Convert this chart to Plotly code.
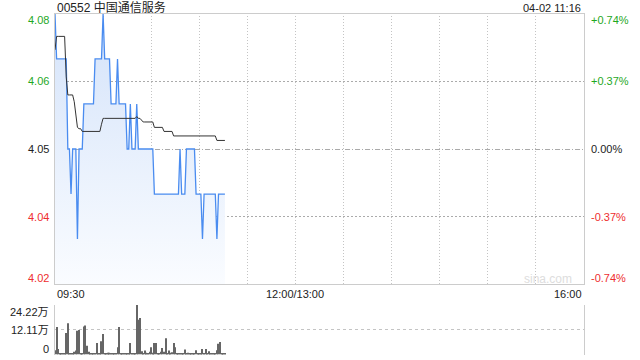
import math
import plotly.graph_objects as go

# ---------------- data ----------------
title_text = "00552 中国通信服务"
stamp_text = "04-02 11:16"
prev_close = 4.05
pct_range = 0.0074

# minute offsets from 09:30 (0..106 -> 09:30..11:16)
minutes = list(range(107))

price = [4.08,
         4.07, 4.07, 4.07, 4.07, 4.07, 4.07, 4.07,
         4.05, 4.05, 4.04, 4.05, 4.05, 4.05, 4.03, 4.05, 4.05, 4.05,
         4.06, 4.06, 4.06, 4.06, 4.06, 4.06, 4.06,
         4.07, 4.07, 4.07, 4.07, 4.07, 4.08, 4.07, 4.07, 4.07, 4.07,
         4.06, 4.06, 4.06, 4.06, 4.07, 4.06, 4.06, 4.06, 4.06, 4.06,
         4.05, 4.05, 4.06, 4.05, 4.05, 4.05, 4.06,
         4.05, 4.05, 4.05, 4.05, 4.05, 4.05, 4.05, 4.05, 4.05, 4.05,
         4.04, 4.04, 4.04, 4.04, 4.04, 4.04, 4.04, 4.04, 4.04, 4.04,
         4.04, 4.04, 4.04, 4.04, 4.04, 4.04,
         4.05, 4.04, 4.04, 4.04,
         4.05, 4.05, 4.05, 4.05, 4.05, 4.05,
         4.04, 4.04, 4.04, 4.04, 4.03,
         4.04, 4.04, 4.04, 4.04, 4.04, 4.04, 4.04, 4.04,
         4.03, 4.04, 4.04, 4.04, 4.04, 4.04]

avg_price = [4.072,
             4.075, 4.075, 4.075, 4.075, 4.075, 4.075,
             4.066, 4.062, 4.062, 4.062, 4.062, 4.0605, 4.058, 4.0548, 4.0545, 4.0545,
             4.0539, 4.0539, 4.0539, 4.0539, 4.0539, 4.0539, 4.0539, 4.0539,
             4.0539, 4.0539, 4.0539, 4.0539, 4.0555,
             4.0568, 4.0568, 4.0568, 4.0568, 4.0568, 4.0568, 4.0568, 4.0568,
             4.0568, 4.0568, 4.0568, 4.0568, 4.0568, 4.0568, 4.0568, 4.0568,
             4.0568, 4.0568, 4.0568, 4.0568, 4.0568,
             4.0572, 4.0568, 4.0568, 4.0563,
             4.056, 4.056, 4.056, 4.056, 4.056, 4.056, 4.056,
             4.0548, 4.0548, 4.0548, 4.0548, 4.0548, 4.0548,
             4.0539, 4.0539, 4.0539, 4.0539, 4.0539, 4.0539,
             4.0529, 4.0529, 4.0529, 4.0529, 4.0529, 4.0529, 4.0529, 4.0529, 4.0529,
             4.0529, 4.0529, 4.0529, 4.0529, 4.0529, 4.0529, 4.0529, 4.0529, 4.0529,
             4.0529, 4.0529, 4.0529, 4.0529, 4.0529, 4.0529, 4.0529, 4.0529, 4.0529,
             4.0519, 4.0519, 4.0519, 4.0519, 4.0519, 4.0519]

# volume in 万 shares
volume = [2.1, 13.4, 2.7, 0.5, 0.4, 0.3, 0.3, 10.5, 15.3, 0.3,
          0.4, 0.3, 1.3, 2.0, 11.6, 12.0, 0.4, 0.3, 13.7, 14.2,
          4.3, 1.3, 0.3, 0.4, 0.3, 0.3, 5.6, 0.3, 0.4, 6.5,
          10.0, 0.3, 0.4, 0.8, 0.8, 0.3, 0.3, 0.4, 0.3, 3.5,
          13.4, 0.3, 0.3, 0.4, 0.3, 0.3, 0.3, 5.6, 0.3, 0.3,
          0.3, 24.22, 17.0, 17.8, 1.6, 0.4, 2.0, 0.8, 0.3, 1.3,
          3.5, 0.8, 5.6, 5.6, 0.3, 0.3, 1.3, 3.2, 1.3, 8.0,
          0.3, 2.0, 0.8, 1.1, 5.6, 3.5, 0.3, 0.3, 0.4, 0.3,
          0.3, 2.4, 0.3, 0.8, 0.3, 0.3, 0.3, 0.3, 2.1, 0.3,
          0.3, 0.3, 2.7, 0.3, 2.7, 0.3, 1.6, 0.3, 0.3, 0.3,
          0.4, 2.1, 5.2, 6.1, 0.3, 0.3, 0.4]

time_tick_pos = [0, 150, 330]
time_tick_text = ["09:30", "12:00/13:00", "16:00"]
time_grid_pos = [30, 60, 90, 120, 150, 180, 210, 240, 270, 300]

price_tick_vals = [4.07997, 4.065, 4.05, 4.035, 4.02003]
price_tick_text = ["4.08", "4.06", "4.05", "4.04", "4.02"]
pct_tick_text = ["+0.74%", "+0.37%", "0.00%", "-0.37%", "-0.74%"]
price_grid_vals = [4.065, 4.035]
vol_tick_vals = [24.22, 12.11, 0]
vol_tick_text = ["24.22万", "12.11万", "0"]

# ---------------- styling ----------------
W, H = 640, 360
L, R = 55, 584
PT, PB = 14, 284
VT, VB = 305, 354.5
FONT = "Liberation Sans, Arial, Noto Sans CJK SC"
GREEN = "#1fa81f"
RED = "#ee2e2e"
GRID = "#c4c4c4"

ymin = prev_close * (1 - pct_range)
ymax = prev_close * (1 + pct_range)


def px_x(m):
    # pixel-centred paper x of a minute position (crisp 1px line)
    return (math.floor(L + m * (R - L) / 330.0) + 0.5) / W


def px_y(v):
    # pixel-centred paper y of a price value (crisp 1px line)
    p = PT + (ymax - v) / (ymax - ymin) * (PB - PT)
    return 1 - (math.floor(p) + 0.5) / H


fig = go.Figure()

fig.add_trace(go.Scatter(
    x=minutes, y=price, mode="lines",
    line=dict(color="#4a8cf0", width=1.3),
    fill="tozeroy",
    fillgradient=dict(type="vertical", start=ymin, stop=ymax,
                      colorscale=[[0, "rgba(250,252,255,1)"],
                                  [1, "rgba(212,227,250,1)"]]),
    xaxis="x", yaxis="y", hoverinfo="skip", showlegend=False))

fig.add_trace(go.Scatter(
    x=minutes, y=avg_price, mode="lines",
    line=dict(color="#333333", width=1),
    xaxis="x", yaxis="y", hoverinfo="skip", showlegend=False))

fig.add_trace(go.Bar(
    x=minutes, y=volume, marker=dict(color="#666666", line=dict(width=0)),
    xaxis="x2", yaxis="y2", hoverinfo="skip", showlegend=False))

xdom = [L / W, R / W]
fig.update_layout(
    width=W, height=H,
    margin=dict(l=0, r=0, t=0, b=0),
    paper_bgcolor="white", plot_bgcolor="rgba(0,0,0,0)",
    bargap=0.35,
    font=dict(family=FONT, size=11, color="#222"),
    xaxis=dict(domain=xdom, range=[0, 330], anchor="y",
               showgrid=False, showticklabels=False, ticks="", zeroline=False,
               showline=True, linecolor="#cccccc", linewidth=1, mirror=True),
    yaxis=dict(domain=[1 - PB / H, 1 - PT / H], range=[ymin, ymax], anchor="x",
               showgrid=False, showticklabels=False, ticks="", zeroline=False,
               showline=True, linecolor="#cccccc", linewidth=1, mirror=True),
    xaxis2=dict(domain=xdom, range=[0, 330], anchor="y2", matches="x",
                showgrid=False, showticklabels=False, ticks="", zeroline=False,
                showline=False),
    yaxis2=dict(domain=[1 - VB / H, 1 - VT / H], range=[0, 24.22], anchor="x2",
                tickvals=vol_tick_vals, showticklabels=False, ticks="",
                showgrid=True, gridcolor="#c4c4c4", griddash="dot", gridwidth=1,
                zeroline=False,
                showline=True, linecolor="#cccccc", linewidth=1, mirror=True),
)

# dotted grid of the price panel (pixel aligned)
y_top = 1 - PT / H
y_bot = 1 - PB / H
for gx in time_grid_pos:
    xp = px_x(gx)
    fig.add_shape(type="line", xref="paper", yref="paper", x0=xp, x1=xp,
                  y0=y_bot, y1=y_top, layer="below",
                  line=dict(color=GRID, width=1, dash="1px,2px"))
for gy in price_grid_vals:
    yp = px_y(gy)
    fig.add_shape(type="line", xref="paper", yref="paper", x0=L / W, x1=R / W,
                  y0=yp, y1=yp, layer="below",
                  line=dict(color="#ababab", width=1, dash="2px,2px"))

# previous-close reference line
yp = px_y(prev_close)
fig.add_shape(type="line", xref="paper", yref="paper", x0=L / W, x1=R / W,
              y0=yp, y1=yp, layer="below",
              line=dict(color="#aaaaaa", width=1, dash="5px,2px,1px,2px"))

ann = []
# title and timestamp
ann.append(dict(text=title_text, xref="paper", yref="paper", x=L / W, y=1 - 7.7 / H,
                xanchor="left", yanchor="middle", showarrow=False,
                font=dict(size=12, color="#222", family=FONT)))
ann.append(dict(text=stamp_text, xref="paper", yref="paper", x=(R - 1) / W, y=1 - 7.8 / H,
                xanchor="right", yanchor="middle", showarrow=False,
                font=dict(size=11, color="#222", family=FONT)))

# price (left) and percent (right) labels
for v, t, p in zip(price_tick_vals, price_tick_text, pct_tick_text):
    col = GREEN if v > prev_close + 1e-9 else (RED if v < prev_close - 1e-9 else "#222")
    ys = -6 if v == price_tick_vals[0] else (6 if v == price_tick_vals[-1] else 0)
    ann.append(dict(text=t, xref="paper", yref="y", x=L / W, y=v, xshift=-4, yshift=ys,
                    xanchor="right", yanchor="middle", showarrow=False,
                    font=dict(size=11, color=col, family=FONT)))
    ann.append(dict(text=p, xref="paper", yref="y", x=R / W, y=v, xshift=5, yshift=ys,
                    xanchor="left", yanchor="middle", showarrow=False,
                    font=dict(size=11, color=col, family=FONT)))

# volume labels
for v, t in zip(vol_tick_vals, vol_tick_text):
    ys = -6.5 if v == vol_tick_vals[0] else (6 if v == 0 else 0)
    ann.append(dict(text=t, xref="paper", yref="y2", x=L / W, y=v, xshift=-4, yshift=ys,
                    xanchor="right", yanchor="middle", showarrow=False,
                    font=dict(size=11, color="#222", family=FONT)))

# time labels
for pos, t in zip(time_tick_pos, time_tick_text):
    xa = "left" if pos == time_tick_pos[0] else ("right" if pos == time_tick_pos[-1] else "center")
    ann.append(dict(text=t, xref="x", yref="paper", x=pos, y=1 - 294 / H,
                    xanchor=xa, yanchor="middle", showarrow=False,
                    font=dict(size=11, color="#222", family=FONT)))

# watermark
ann.append(dict(text="sina.com", xref="paper", yref="paper", x=574 / W, y=1 - 279 / H,
                xanchor="right", yanchor="middle", showarrow=False,
                font=dict(size=12, color="#dddddd", family=FONT)))

fig.update_layout(annotations=ann)
fig.write_html("out.html")
